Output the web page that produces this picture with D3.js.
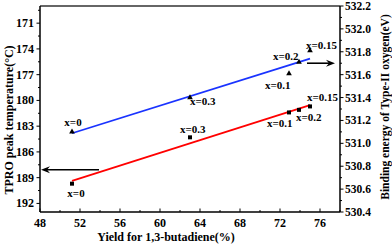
<!DOCTYPE html>
<html>
<head>
<meta charset="utf-8">
<script src="https://cdn.jsdelivr.net/npm/d3@7"></script>
<style>
  body { margin: 0; background: #fff; }
  text { font-family: "Liberation Serif", "Times New Roman", serif; font-weight: bold; fill: #000; }
</style>
</head>
<body>
<div id="chart"></div>
<script>
// Yield for 1,3-butadiene (%) of each sample
var yieldX = [51.2, 63.0, 72.9, 73.9, 75.0];
// sample labels
var sampleLabels = ["x=0", "x=0.3", "x=0.1", "x=0.2", "x=0.15"];
// TPRO peak temperature (left axis, red squares)
var tproTemp = [189.7, 184.3, 181.4, 181.1, 180.7];
// Binding energy of Type-II oxygen (right axis, blue triangles)
var bindEnergy = [531.10, 531.40, 531.61, 531.71, 531.81];

var xTicks = [48, 52, 56, 60, 64, 68, 72, 76];
var leftTicks = [171, 174, 177, 180, 183, 186, 189, 192];
var rightTicks = [530.4, 530.6, 530.8, 531.0, 531.2, 531.4, 531.6, 531.8, 532.0, 532.2];

// label offsets (px) relative to each point
var redLabelPos = [[4, 13, "middle"], [-10, -4, "start"], [-22, 15, "start"], [-3, 11, "start"], [-3, -5, "start"]];
var blueLabelPos = [[1, -6, "middle"], [0, 7, "start"], [-24, 15, "start"], [-26, -2, "start"], [-4, -2, "start"]];

var width = 392, height = 245;
var margin = {top: 6, right: 52, bottom: 33, left: 40};

var svg = d3.select("#chart")
    .append("svg")
    .attr("width", width)
    .attr("height", height);

var x = d3.scaleLinear().domain([48, 78]).range([margin.left, width - margin.right]);
var yL = d3.scaleLinear().domain([169, 193]).range([margin.top, height - margin.bottom]);
var yR = d3.scaleLinear().domain([530.4, 532.2]).range([height - margin.bottom, margin.top]);

var x0 = x.range()[0], x1 = x.range()[1], yTop = margin.top, yBot = height - margin.bottom;

// Top frame line
svg.append("line")
    .attr("x1", x0).attr("x2", x1).attr("y1", yTop).attr("y2", yTop)
    .attr("stroke", "#333").attr("stroke-width", 1.3);

// Bottom axis (ticks inward)
var xAxis = svg.append("g").attr("transform", "translate(0," + yBot + ")");
xAxis.append("line").attr("x1", x0).attr("x2", x1).attr("stroke", "#000").attr("stroke-width", 1.5);
xAxis.selectAll(".minor").data(d3.range(48, 78.1, 2)).enter().append("line")
    .attr("x1", x).attr("x2", x).attr("y1", 0).attr("y2", function(d) { return d % 4 == 0 ? -3.5 : -2; })
    .attr("stroke", "#000").attr("stroke-width", 1);
xAxis.selectAll("text").data(xTicks).enter().append("text")
    .attr("x", x).attr("y", 15)
    .attr("text-anchor", "middle").attr("font-size", 12)
    .text(function(d) { return d; });

// Left axis (ticks outward)
var lAxis = svg.append("g");
lAxis.append("line").attr("x1", x0).attr("x2", x0).attr("y1", yTop).attr("y2", yBot).attr("stroke", "#000").attr("stroke-width", 1.5);
lAxis.selectAll(".tk").data(d3.range(169.5, 193, 1.5)).enter().append("line")
    .attr("y1", yL).attr("y2", yL).attr("x1", x0)
    .attr("x2", function(d) { return leftTicks.indexOf(d) >= 0 ? x0 - 3.5 : x0 - 2; })
    .attr("stroke", "#000").attr("stroke-width", 1);
lAxis.selectAll("text").data(leftTicks).enter().append("text")
    .attr("x", x0 - 6).attr("y", function(d) { return yL(d) + 4; })
    .attr("text-anchor", "end").attr("font-size", 12)
    .text(function(d) { return d; });

// Right axis (ticks outward)
var rAxis = svg.append("g");
rAxis.append("line").attr("x1", x1).attr("x2", x1).attr("y1", yTop).attr("y2", yBot).attr("stroke", "#000").attr("stroke-width", 1.5);
rAxis.selectAll(".tk").data(d3.range(0, 19)).enter().append("line")
    .attr("y1", function(i) { return yR(530.4 + i * 0.1); })
    .attr("y2", function(i) { return yR(530.4 + i * 0.1); })
    .attr("x1", x1)
    .attr("x2", function(i) { return i % 2 == 0 ? x1 + 3.5 : x1 + 2; })
    .attr("stroke", "#000").attr("stroke-width", 1);
rAxis.selectAll("text").data(rightTicks).enter().append("text")
    .attr("x", x1 + 5).attr("y", function(d) { return yR(d) + 4; })
    .attr("text-anchor", "start").attr("font-size", 11.5)
    .text(function(d) { return d.toFixed(1); });

// Axis titles
svg.append("text")
    .attr("x", 166).attr("y", 241)
    .attr("text-anchor", "middle").attr("font-size", 12)
    .text("Yield for 1,3-butadiene(%)");
svg.append("text")
    .attr("transform", "translate(13," + 120 + ") rotate(-90)")
    .attr("text-anchor", "middle").attr("font-size", 12)
    .text("TPRO peak temperature(\u00B0C)");
svg.append("text")
    .attr("transform", "translate(389," + 107 + ") rotate(-90)")
    .attr("text-anchor", "middle").attr("font-size", 11.5)
    .text("Binding energy of Type-II oxygen(eV)");

// Least squares fit line over the data range
function fit(xs, ys) {
    var mx = d3.mean(xs), my = d3.mean(ys);
    var sxy = d3.sum(xs, function(v, i) { return (v - mx) * (ys[i] - my); });
    var sxx = d3.sum(xs, function(v) { return (v - mx) * (v - mx); });
    var b = sxy / sxx, a = my - b * mx;
    var ext = d3.extent(xs);
    return ext.map(function(v) { return [v, a + b * v]; });
}

var redFit = fit(yieldX, tproTemp);
var blueFit = fit(yieldX, bindEnergy);

svg.append("path")
    .attr("d", d3.line().x(function(d) { return x(d[0]); }).y(function(d) { return yL(d[1]); })(redFit))
    .attr("stroke", "#ff0000").attr("stroke-width", 1.8).attr("fill", "none");
svg.append("path")
    .attr("d", d3.line().x(function(d) { return x(d[0]); }).y(function(d) { return yR(d[1]); })(blueFit))
    .attr("stroke", "#1a33ff").attr("stroke-width", 1.8).attr("fill", "none");

// Points
var pts = yieldX.map(function(v, i) { return {x: v, t: tproTemp[i], e: bindEnergy[i], label: sampleLabels[i], i: i}; });

svg.selectAll(".sq").data(pts).enter().append("rect")
    .attr("x", function(d) { return x(d.x) - 2; })
    .attr("y", function(d) { return yL(d.t) - 2; })
    .attr("width", 4).attr("height", 4).attr("fill", "#000");

svg.selectAll(".tri").data(pts).enter().append("path")
    .attr("d", d3.symbol().type(d3.symbolTriangle).size(14))
    .attr("transform", function(d) { return "translate(" + x(d.x) + "," + yR(d.e) + ")"; })
    .attr("fill", "#000");

svg.selectAll(".rl").data(pts).enter().append("text")
    .attr("x", function(d) { return x(d.x) + redLabelPos[d.i][0]; })
    .attr("y", function(d) { return yL(d.t) + redLabelPos[d.i][1]; })
    .attr("text-anchor", function(d) { return redLabelPos[d.i][2]; })
    .attr("font-size", 11)
    .text(function(d) { return d.label; });

svg.selectAll(".bl").data(pts).enter().append("text")
    .attr("x", function(d) { return x(d.x) + blueLabelPos[d.i][0]; })
    .attr("y", function(d) { return yR(d.e) + blueLabelPos[d.i][1]; })
    .attr("text-anchor", function(d) { return blueLabelPos[d.i][2]; })
    .attr("font-size", 11)
    .text(function(d) { return d.label; });

// Arrows pointing to each series' axis
var arrows = [
    {from: [53.9, 188.07], to: [48.1, 188.07], scale: yL},
    {from: [74.7, 531.70], to: [77.5, 531.70], scale: yR}
];
arrows.forEach(function(a) {
    var fx = x(a.from[0]), tx = x(a.to[0]), yy = a.scale(a.from[1]);
    var dir = tx > fx ? 1 : -1;
    svg.append("line")
        .attr("x1", fx).attr("x2", tx - dir * 6).attr("y1", yy).attr("y2", yy)
        .attr("stroke", "#000").attr("stroke-width", 1.6);
    svg.append("path")
        .attr("d", "M" + tx + "," + yy + "L" + (tx - dir * 9) + "," + (yy - 3.5) + "L" + (tx - dir * 6) + "," + yy + "L" + (tx - dir * 9) + "," + (yy + 3.5) + "Z")
        .attr("fill", "#000");
});
</script>
</body>
</html>
